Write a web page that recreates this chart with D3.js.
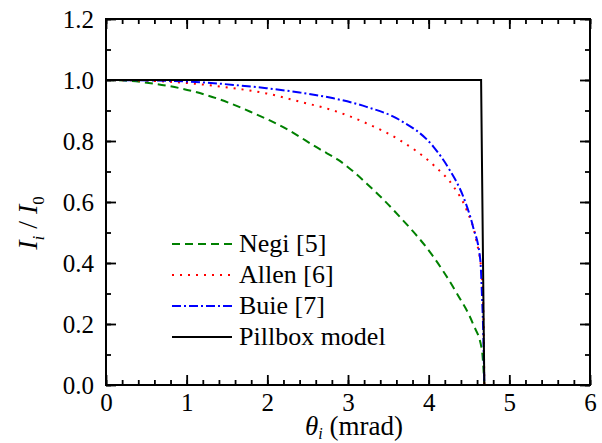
<html>
<head>
<script src="https://d3js.org/d3.v7.min.js"></script>
<style>
  body { margin: 0; background: #fff; }
</style>
</head>
<body>
<svg id="plot"></svg>
<script>
// data
var thetaNegi = [0, 0.3, 0.6, 0.92, 1.37, 1.79, 2.22, 2.65, 2.88, 3.23, 3.64, 4.06, 4.35, 4.55, 4.66, 4.68, 4.69];
var iNegi     = [1, 0.997, 0.988, 0.973, 0.94, 0.896, 0.842, 0.773, 0.738, 0.661, 0.552, 0.42, 0.30, 0.20, 0.115, 0.05, 0];

var thetaAllen = [0, 0.5, 0.8, 1.17, 1.58, 1.99, 2.4, 2.82, 3.23, 3.64, 4.06, 4.31, 4.47, 4.59, 4.66, 4.68, 4.69];
var iAllen     = [1, 0.998, 0.994, 0.986, 0.973, 0.956, 0.929, 0.90, 0.858, 0.803, 0.721, 0.65, 0.574, 0.475, 0.355, 0.21, 0];

var thetaBuie = [0, 0.8, 1.2, 1.58, 1.99, 2.4, 2.82, 3.23, 3.64, 4.06, 4.26, 4.43, 4.55, 4.64, 4.66, 4.68, 4.69];
var iBuie     = [1, 0.997, 0.992, 0.984, 0.973, 0.959, 0.94, 0.912, 0.869, 0.781, 0.705, 0.617, 0.519, 0.41, 0.30, 0.137, 0];

var thetaPill = [0, 4.65, 4.69, 6];
var iPill     = [1, 1, 0, 0];

var xTicks = [0, 1, 2, 3, 4, 5, 6];
var yTicks = [0, 0.2, 0.4, 0.6, 0.8, 1.0, 1.2];

var seriesNames = ["Negi [5]", "Allen [6]", "Buie [7]", "Pillbox model"];

var serif = "'Liberation Serif'";
var width = 602, height = 443;
var padL = 106, padR = 590, padT = 19, padB = 385;

var svg = d3.select("#plot").attr("width", width).attr("height", height);

var xScale = d3.scaleLinear().domain([0, 6]).range([padL, padR]);
var yScale = d3.scaleLinear().domain([0, 1.2]).range([padB, padT]);

//series
var series = [
    {x: thetaNegi, y: iNegi, color: "#008000", dash: "8,5"},
    {x: thetaAllen, y: iAllen, color: "#ff0000", dash: "2,6"},
    {x: thetaBuie, y: iBuie, color: "#0000ff", dash: "9,3,2,3"},
    {x: thetaPill, y: iPill, color: "#000000", dash: null}
];

var line = d3.line()
    .x(function(d) { return xScale(d[0]); })
    .y(function(d) { return yScale(d[1]); });

series.forEach(function(s, k) {
    var pts = s.x.map(function(v, i) { return [v, s.y[i]]; });
    svg.append("path")
        .attr("d", (k == 3 ? line.curve(d3.curveLinear) : line.curve(d3.curveMonotoneX))(pts))
        .attr("fill", "none")
        .attr("stroke", s.color)
        .attr("stroke-width", 2)
        .attr("stroke-dasharray", s.dash);
});

//axes with inside ticks on all sides
var minorX = d3.range(0, 6.001, 0.2);
var minorY = d3.range(0, 1.2001, 0.1);

var axB = d3.axisBottom(xScale).tickValues(xTicks).tickSize(-10).tickPadding(8).tickFormat(d3.format("d"));
var axT = d3.axisTop(xScale).tickValues(xTicks).tickSize(-10).tickFormat("");
var axL = d3.axisLeft(yScale).tickValues(yTicks).tickSize(-10).tickPadding(12).tickFormat(d3.format(".1f"));
var axR = d3.axisRight(yScale).tickValues(yTicks).tickSize(-10).tickFormat("");

var mB = d3.axisBottom(xScale).tickValues(minorX).tickSize(-5).tickFormat("");
var mT = d3.axisTop(xScale).tickValues(minorX).tickSize(-5).tickFormat("");
var mL = d3.axisLeft(yScale).tickValues(minorY).tickSize(-5).tickFormat("");
var mR = d3.axisRight(yScale).tickValues(minorY).tickSize(-5).tickFormat("");

function addAxis(ax, tx, ty) {
    var g = svg.append("g").attr("transform", "translate(" + tx + "," + ty + ")").call(ax);
    g.attr("font-family", null).attr("font-size", null);
    g.select(".domain").remove();
    g.selectAll("line").attr("stroke", "#000").attr("stroke-width", 1.8);
    g.selectAll("text").style("font-size", "25px").style("font-family", serif).attr("fill", "#000");
    return g;
}
addAxis(mB, 0, padB);
addAxis(mT, 0, padT);
addAxis(mL, padL, 0);
addAxis(mR, padR, 0);
addAxis(axB, 0, padB);
addAxis(axT, 0, padT);
addAxis(axL, padL, 0);
addAxis(axR, padR, 0);

svg.append("rect")
    .attr("x", padL).attr("y", padT)
    .attr("width", padR - padL).attr("height", padB - padT)
    .attr("fill", "none").attr("stroke", "#000").attr("stroke-width", 2);

//axis titles
var xt = svg.append("text")
    .attr("x", 354).attr("y", 435)
    .attr("text-anchor", "middle")
    .style("font-family", serif)
    .style("font-size", "27px");
xt.append("tspan").style("font-style", "italic").text("θ");
xt.append("tspan").style("font-style", "italic").style("font-size", "16px").attr("dy", 4).text("i");
xt.append("tspan").attr("dy", -4).text(" (mrad)");

var yt = svg.append("text")
    .attr("transform", "translate(37,223) rotate(-90)")
    .attr("text-anchor", "middle")
    .style("font-family", serif)
    .style("font-size", "28px");
yt.append("tspan").style("font-style", "italic").text("I");
yt.append("tspan").style("font-style", "italic").style("font-size", "17px").attr("dy", 7).text("i");
yt.append("tspan").attr("dy", -7).text(" / ");
yt.append("tspan").style("font-style", "italic").text("I");
yt.append("tspan").style("font-size", "17px").attr("dy", 7).text("0");

//legend
var legend = svg.append("g");
seriesNames.forEach(function(name, i) {
    var y = 244 + i * 31;
    legend.append("line")
        .attr("x1", 172).attr("x2", 232).attr("y1", y).attr("y2", y)
        .attr("stroke", series[i].color)
        .attr("stroke-width", 2)
        .attr("stroke-dasharray", series[i].dash);
    legend.append("text")
        .attr("x", 239).attr("y", y + 8)
        .style("font-family", serif)
        .style("font-size", "26px")
        .text(name);
});
</script>
</body>
</html>
